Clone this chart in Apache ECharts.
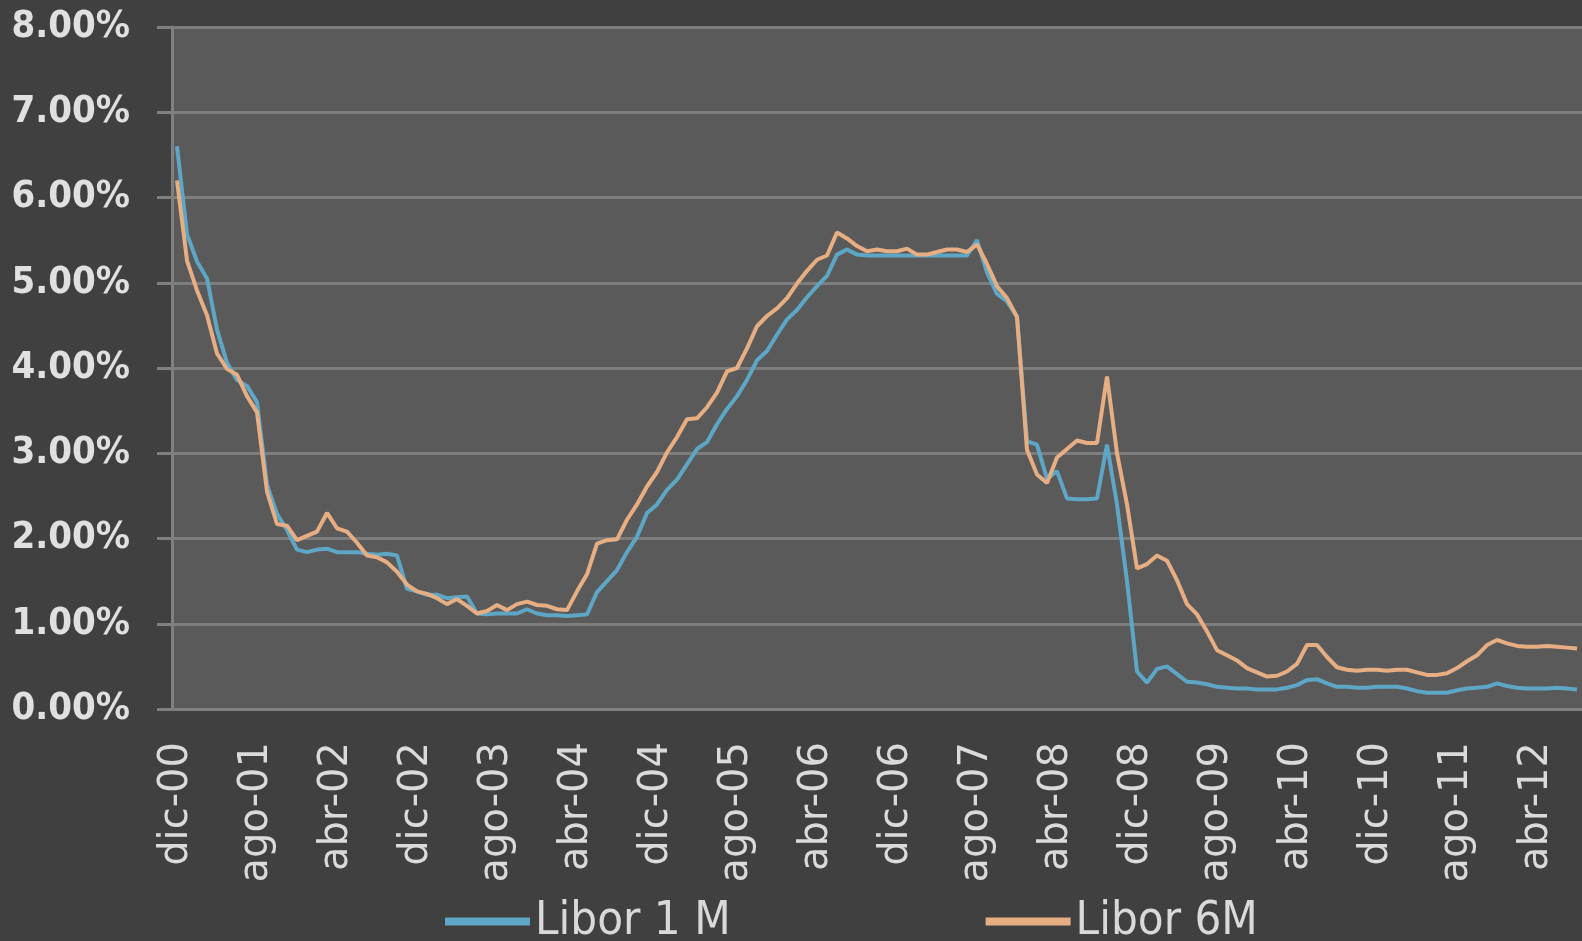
<!DOCTYPE html>
<html>
<head>
<meta charset="utf-8">
<script src="https://cdn.jsdelivr.net/npm/echarts@6/dist/echarts.min.js"></script>
<style>
  html, body { margin: 0; padding: 0; background: #404040; }
  #chart { width: 1582px; height: 941px; }
</style>
</head>
<body>
<div id="chart"></div>
<script>
// meses en español, eje desde dic-00 hasta ago-12
const monthNames = ['ene', 'feb', 'mar', 'abr', 'may', 'jun', 'jul', 'ago', 'sep', 'oct', 'nov', 'dic']
const startYear = 2000
const startMonth = 11 // dic
const monthCount = 141

// Libor 1 M (%)
const libor1M = [
  6.60,
  5.57, 5.25, 5.05, 4.45, 4.06, 3.86, 3.79, 3.60, 2.63, 2.29, 2.10, 1.87,
  1.84, 1.87, 1.88, 1.84, 1.84, 1.84, 1.82, 1.81, 1.82, 1.80, 1.41, 1.38,
  1.34, 1.34, 1.30, 1.31, 1.32, 1.12, 1.11, 1.12, 1.12, 1.12, 1.17, 1.12,
  1.10, 1.10, 1.09, 1.10, 1.11, 1.37, 1.50, 1.63, 1.84, 2.02, 2.30, 2.40,
  2.57, 2.69, 2.87, 3.05, 3.13, 3.34, 3.52, 3.67, 3.86, 4.09, 4.20, 4.39,
  4.57, 4.68, 4.83, 4.96, 5.08, 5.33, 5.39, 5.33, 5.32, 5.32, 5.32, 5.32,
  5.32, 5.32, 5.32, 5.32, 5.32, 5.32, 5.32, 5.50, 5.12, 4.87, 4.78, 4.60,
  3.14, 3.10, 2.70, 2.79, 2.47, 2.46, 2.46, 2.47, 3.10, 2.40, 1.50, 0.44,
  0.31, 0.47, 0.50, 0.41, 0.32, 0.31, 0.29, 0.26, 0.25, 0.24, 0.24, 0.23,
  0.23, 0.23, 0.25, 0.28, 0.34, 0.35, 0.30, 0.26, 0.26, 0.25, 0.25, 0.26,
  0.26, 0.26, 0.24, 0.21, 0.19, 0.19, 0.19, 0.22, 0.24, 0.25, 0.26, 0.30,
  0.27, 0.25, 0.24, 0.24, 0.24, 0.25, 0.24, 0.23
]

// Libor 6M (%)
const libor6M = [
  6.20,
  5.26, 4.91, 4.62, 4.17, 3.99, 3.92, 3.67, 3.48, 2.55, 2.17, 2.15, 1.98,
  2.03, 2.08, 2.30, 2.12, 2.08, 1.95, 1.80, 1.78, 1.72, 1.61, 1.46, 1.38,
  1.35, 1.30, 1.23, 1.29, 1.21, 1.12, 1.15, 1.22, 1.16, 1.23, 1.26, 1.22,
  1.21, 1.17, 1.16, 1.38, 1.58, 1.94, 1.98, 1.99, 2.22, 2.40, 2.61, 2.78,
  3.01, 3.19, 3.40, 3.41, 3.54, 3.71, 3.96, 4.00, 4.23, 4.49, 4.61, 4.70,
  4.82, 4.99, 5.14, 5.27, 5.32, 5.59, 5.52, 5.43, 5.37, 5.39, 5.37, 5.37,
  5.40, 5.33, 5.33, 5.36, 5.39, 5.39, 5.36, 5.45, 5.22, 4.96, 4.82, 4.60,
  3.04, 2.75, 2.65, 2.95, 3.05, 3.15, 3.12, 3.12, 3.90, 3.00, 2.40, 1.65,
  1.70, 1.80, 1.74, 1.51, 1.23, 1.11, 0.91, 0.69, 0.63, 0.57, 0.48, 0.43,
  0.38, 0.39, 0.44, 0.53, 0.75, 0.75, 0.61, 0.49, 0.46, 0.45, 0.46, 0.46,
  0.45, 0.46, 0.46, 0.43, 0.40, 0.40, 0.42, 0.48, 0.56, 0.63, 0.75, 0.81,
  0.77, 0.74, 0.73, 0.73, 0.74, 0.73, 0.72, 0.71
]

const categories = []
for (let i = 0; i < monthCount; i++) {
  const m = (startMonth + i) % 12
  const y = startYear + Math.floor((startMonth + i) / 12)
  categories.push(monthNames[m] + '-' + String(y % 100).padStart(2, '0'))
}

const narrowFont = "'DejaVu Sans Condensed', 'Liberation Sans', sans-serif"

const chart = echarts.init(document.getElementById('chart'))
chart.setOption({
  backgroundColor: '#404040',
  animation: false,
  grid: {
    left: 172,
    top: 27,
    width: 1410,
    height: 682,
    show: true,
    backgroundColor: '#5a5a5a',
    borderWidth: 0
  },
  legend: {
    left: 440,
    top: 893,
    itemWidth: 85,
    itemHeight: 8,
    itemGap: 255,
    icon: 'rect',
    textStyle: {
      color: '#d9d9d9',
      fontSize: 47,
      fontFamily: narrowFont
    },
    data: ['Libor 1 M', 'Libor 6M']
  },
  xAxis: {
    type: 'category',
    data: categories,
    boundaryGap: true,
    axisLine: { lineStyle: { color: '#808080', width: 3 } },
    axisTick: {
      interval: 7,
      length: 13,
      lineStyle: { color: '#808080', width: 3 }
    },
    axisLabel: {
      interval: 7,
      rotate: 90,
      margin: 33,
      color: '#dadada',
      fontSize: 40,
      fontFamily: "'DejaVu Sans', sans-serif"
    }
  },
  yAxis: {
    type: 'value',
    min: 0,
    max: 8,
    interval: 1,
    axisLine: { show: true, lineStyle: { color: '#808080', width: 3 } },
    axisTick: { show: true, length: 15, lineStyle: { color: '#808080', width: 3 } },
    splitLine: { lineStyle: { color: '#7d7d7d', width: 3 } },
    axisLabel: {
      margin: 42,
      color: '#e0e0e0',
      fontSize: 38,
      fontWeight: 'bold',
      fontFamily: narrowFont,
      formatter: v => v.toFixed(2) + '%'
    }
  },
  series: [
    {
      name: 'Libor 1 M',
      type: 'line',
      data: libor1M,
      symbol: 'none',
      color: '#5ea6c6',
      lineStyle: { width: 4, color: '#5ea6c6' }
    },
    {
      name: 'Libor 6M',
      type: 'line',
      data: libor6M,
      symbol: 'none',
      color: '#e6ae82',
      lineStyle: { width: 4, color: '#e6ae82' }
    }
  ]
})
</script>
</body>
</html>
